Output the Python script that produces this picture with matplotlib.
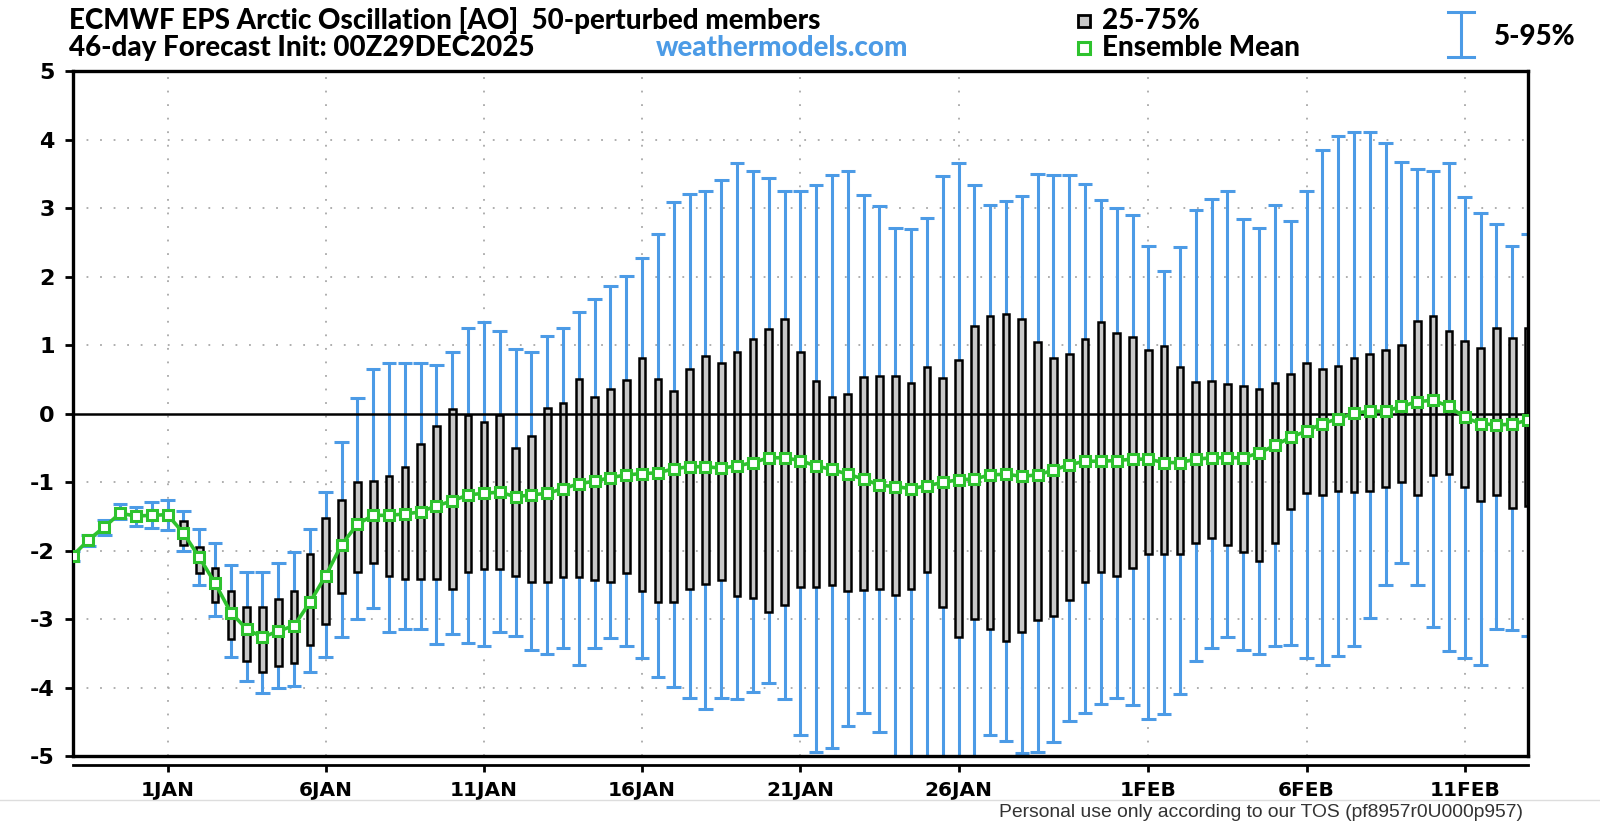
import numpy as np
import pandas as pd
import matplotlib
matplotlib.use('Agg')
import matplotlib.pyplot as plt
import matplotlib.dates as mdates
from matplotlib.lines import Line2D

# forecast init and output step
init_time = '2025-12-29 00:00'
step_hours = 12

# ensemble mean (green squares)
ens_mean = [-2.07, -1.84, -1.65, -1.45, -1.49, -1.48, -1.47, -1.74, -2.09, -2.47,
            -2.90, -3.14, -3.26, -3.17, -3.09, -2.75, -2.36, -1.91, -1.61, -1.48,
            -1.48, -1.46, -1.43, -1.34, -1.27, -1.18, -1.16, -1.14, -1.21, -1.18,
            -1.16, -1.09, -1.02, -0.98, -0.93, -0.89, -0.87, -0.86, -0.80, -0.77,
            -0.77, -0.79, -0.76, -0.71, -0.64, -0.64, -0.68, -0.76, -0.81, -0.88,
            -0.95, -1.04, -1.06, -1.09, -1.05, -1.00, -0.96, -0.95, -0.89, -0.88,
            -0.91, -0.89, -0.82, -0.74, -0.69, -0.69, -0.68, -0.66, -0.66, -0.71,
            -0.71, -0.66, -0.64, -0.64, -0.64, -0.57, -0.46, -0.34, -0.25, -0.14,
            -0.07, 0.01, 0.04, 0.04, 0.11, 0.18, 0.20, 0.11, -0.05, -0.14,
            -0.16, -0.15, -0.09]

# 25th percentile (box bottom)
q25 = [-2.10, -1.87, -1.69, -1.49, -1.54, -1.54, -1.54, -1.92, -2.32, -2.75,
       -3.28, -3.60, -3.76, -3.68, -3.64, -3.38, -3.06, -2.62, -2.30, -2.18,
       -2.36, -2.41, -2.41, -2.41, -2.55, -2.30, -2.26, -2.26, -2.37, -2.45,
       -2.45, -2.38, -2.38, -2.43, -2.45, -2.32, -2.59, -2.74, -2.74, -2.55,
       -2.48, -2.43, -2.66, -2.68, -2.89, -2.79, -2.52, -2.52, -2.49, -2.59,
       -2.57, -2.56, -2.64, -2.55, -2.31, -2.82, -3.26, -3.00, -3.14, -3.31,
       -3.18, -3.01, -2.95, -2.71, -2.45, -2.30, -2.36, -2.25, -2.05, -2.05,
       -2.05, -1.88, -1.81, -1.91, -2.02, -2.14, -1.88, -1.39, -1.16, -1.19,
       -1.12, -1.14, -1.12, -1.07, -1.00, -1.18, -0.89, -0.88, -1.07, -1.27,
       -1.18, -1.38, -1.34]

# 75th percentile (box top)
q75 = [-2.04, -1.81, -1.61, -1.41, -1.44, -1.42, -1.40, -1.57, -1.94, -2.25,
       -2.59, -2.82, -2.82, -2.70, -2.59, -2.05, -1.52, -1.25, -1.00, -0.98,
       -0.91, -0.77, -0.44, -0.18, 0.07, -0.02, -0.12, -0.02, -0.50, -0.32,
       0.09, 0.16, 0.51, 0.25, 0.37, 0.49, 0.82, 0.51, 0.34, 0.66,
       0.84, 0.75, 0.91, 1.09, 1.24, 1.38, 0.91, 0.48, 0.25, 0.29,
       0.54, 0.55, 0.56, 0.45, 0.69, 0.52, 0.79, 1.29, 1.43, 1.46,
       1.39, 1.05, 0.81, 0.88, 1.09, 1.34, 1.18, 1.12, 0.94, 0.99,
       0.68, 0.46, 0.48, 0.43, 0.41, 0.36, 0.45, 0.59, 0.74, 0.66,
       0.70, 0.81, 0.87, 0.94, 1.00, 1.36, 1.43, 1.21, 1.06, 0.96,
       1.25, 1.11, 1.25]

# 5th percentile (lower whisker)
p05 = [-2.15, -1.93, -1.76, -1.54, -1.64, -1.66, -1.69, -2.00, -2.49, -2.95,
       -3.55, -3.90, -4.07, -4.00, -3.97, -3.76, -3.55, -3.25, -3.00, -2.84,
       -3.19, -3.14, -3.14, -3.36, -3.21, -3.34, -3.39, -3.19, -3.24, -3.45,
       -3.50, -3.41, -3.66, -3.41, -3.27, -3.39, -3.57, -3.84, -3.98, -4.14,
       -4.31, -4.14, -4.16, -4.06, -3.93, -4.16, -4.68, -4.93, -4.87, -4.55,
       -4.36, -4.64, -5.30, -5.30, -5.30, -5.30, -5.30, -5.20, -4.68, -4.77,
       -4.95, -4.93, -4.79, -4.48, -4.36, -4.23, -4.14, -4.25, -4.46, -4.38,
       -4.09, -3.61, -3.41, -3.26, -3.44, -3.50, -3.39, -3.38, -3.57, -3.66,
       -3.54, -3.39, -2.98, -2.50, -2.18, -2.50, -3.11, -3.46, -3.57, -3.66,
       -3.14, -3.16, -3.24]

# 95th percentile (upper whisker)
p95 = [-2.00, -1.76, -1.55, -1.31, -1.36, -1.29, -1.25, -1.41, -1.68, -1.89,
       -2.20, -2.31, -2.31, -2.18, -2.01, -1.68, -1.14, -0.41, 0.24, 0.66,
       0.74, 0.75, 0.74, 0.71, 0.91, 1.25, 1.34, 1.21, 0.95, 0.91,
       1.14, 1.26, 1.49, 1.68, 1.87, 2.01, 2.27, 2.62, 3.09, 3.21,
       3.26, 3.41, 3.66, 3.54, 3.44, 3.25, 3.26, 3.34, 3.49, 3.54,
       3.19, 3.04, 2.71, 2.70, 2.86, 3.48, 3.66, 3.34, 3.05, 3.11,
       3.18, 3.50, 3.49, 3.49, 3.36, 3.12, 3.00, 2.91, 2.45, 2.09,
       2.43, 2.98, 3.14, 3.25, 2.84, 2.71, 3.05, 2.81, 3.26, 3.86,
       4.06, 4.11, 4.12, 3.96, 3.68, 3.57, 3.55, 3.66, 3.16, 2.93,
       2.77, 2.45, 2.63]

tick_dates = ['2026-01-01', '2026-01-06', '2026-01-11', '2026-01-16', '2026-01-21',
              '2026-01-26', '2026-02-01', '2026-02-06', '2026-02-11']
tick_labels = ['1JAN', '6JAN', '11JAN', '16JAN', '21JAN', '26JAN', '1FEB', '6FEB', '11FEB']
y_ticks = [-5, -4, -3, -2, -1, 0, 1, 2, 3, 4, 5]

BLUE = '#4c9be6'
GREEN = '#2ec22e'
BOX_GRAY = '#c8c8c8'

plt.rcParams['axes.unicode_minus'] = False

times = pd.date_range(init_time, periods=len(ens_mean), freq=f'{step_hours}h')
x = mdates.date2num(times)
ticks = mdates.date2num(pd.to_datetime(tick_dates))

fig = plt.figure(figsize=(16, 8.26), dpi=100)
ax = fig.add_axes([0.0454, 0.0842, 0.9096, 0.8293])

# dotted grid
grid_style = dict(color='#a8a8a8', lw=1.3, ls=(0, (1, 6.5)), zorder=0)
for t in ticks:
    ax.axvline(t, **grid_style)
for v in y_ticks:
    if v not in (0, -5, 5):
        ax.axhline(v, **grid_style)

# 5-95% whiskers
cap = 0.23
ax.vlines(x, p05, p95, color=BLUE, lw=2.2, zorder=1)
ax.hlines(p95, x - cap, x + cap, color=BLUE, lw=2.2, zorder=1)
ax.hlines(p05, x - cap, x + cap, color=BLUE, lw=2.2, zorder=1)

# 25-75% boxes
q25a = np.array(q25)
q75a = np.array(q75)
ax.bar(x, q75a - q25a, bottom=q25a, width=0.21, color=BOX_GRAY,
       edgecolor='black', linewidth=1.8, zorder=2)

ax.axhline(0, color='black', lw=1.8, zorder=3)

ax.plot(x, ens_mean, color=GREEN, lw=2.6, marker='s', ms=7.5, mfc='white',
        mec=GREEN, mew=2.2, zorder=4)

ax.set_xlim(x[0], x[-1])
ax.set_ylim(-5, 5)
ax.set_yticks(y_ticks)
ax.set_yticklabels([str(v) for v in y_ticks])
ax.set_xticks(ticks)
ax.set_xticklabels(tick_labels)

for s in ['left', 'right', 'top']:
    ax.spines[s].set_linewidth(2.4)
ax.spines['bottom'].set_position(('outward', 6))
ax.spines['bottom'].set_linewidth(2.0)
ax.plot([0, 1], [0, 0], transform=ax.transAxes, color='black', lw=2.4,
        clip_on=False, zorder=5)

ax.tick_params(axis='y', length=6, width=2, pad=7, labelsize=16)
ax.tick_params(axis='x', length=5, width=2, pad=7, labelsize=14.5)
for lab in ax.get_xticklabels() + ax.get_yticklabels():
    lab.set_fontweight('bold')
    lab.set_family('DejaVu Sans')

# header
head = dict(family='Lato', weight=900, fontsize=20, va='center', ha='left')
fig.text(0.0434, 0.975, 'ECMWF EPS Arctic Oscillation [AO]  50-perturbed members', **head)
fig.text(0.0434, 0.942, '46-day Forecast Init: 00Z29DEC2025', **head)
fig.text(0.41, 0.942, 'weathermodels.com', color=BLUE, **head)

# legend
fig.add_artist(Line2D([0.6775], [0.975], marker='s', ms=9, mfc=BOX_GRAY, mec='black',
                      mew=2, transform=fig.transFigure))
fig.add_artist(Line2D([0.6775], [0.942], marker='s', ms=9, mfc='white', mec=GREEN,
                      mew=2.2, transform=fig.transFigure))
fig.text(0.689, 0.975, '25-75%', **head)
fig.text(0.689, 0.942, 'Ensemble Mean', **head)
fig.add_artist(Line2D([0.913, 0.913], [0.931, 0.985], color=BLUE, lw=2.2,
                      transform=fig.transFigure))
fig.add_artist(Line2D([0.905, 0.921], [0.985, 0.985], color=BLUE, lw=2.2,
                      transform=fig.transFigure))
fig.add_artist(Line2D([0.905, 0.921], [0.931, 0.931], color=BLUE, lw=2.2,
                      transform=fig.transFigure))
fig.text(0.934, 0.955, '5-95%', **head)

# footer
fig.add_artist(Line2D([0, 1], [0.031, 0.031], color='#dddddd', lw=1,
                      transform=fig.transFigure))
fig.text(0.952, 0.016, 'Personal use only according to our TOS (pf8957r0U000p957)',
         family='Liberation Sans', fontsize=13.9, color='#333333', ha='right', va='center')

fig.savefig('out.png', dpi=100)
